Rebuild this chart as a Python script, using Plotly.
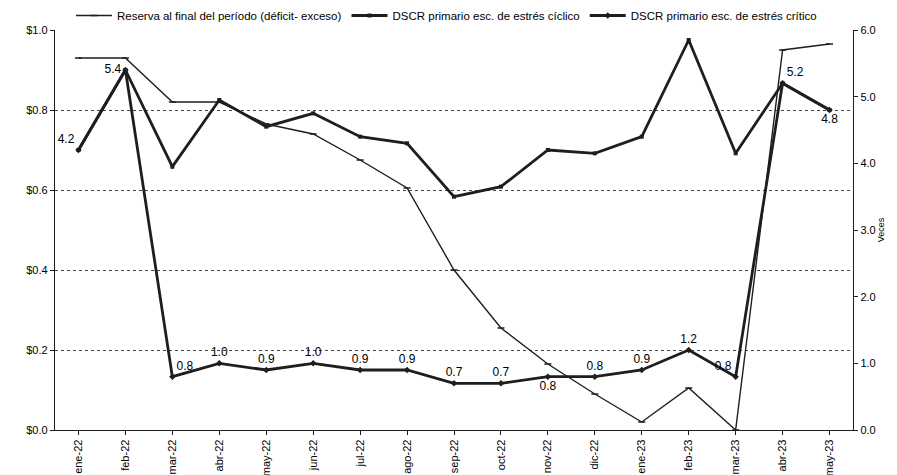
import plotly.graph_objects as go

# Monthly periods
months = ["ene-22", "feb-22", "mar-22", "abr-22", "may-22", "jun-22", "jul-22", "ago-22",
          "sep-22", "oct-22", "nov-22", "dic-22", "ene-23", "feb-23", "mar-23", "abr-23", "may-23"]

# Reserve at end of period (left axis, $)
reserva = [0.93, 0.93, 0.82, 0.82, 0.765, 0.74, 0.675, 0.605, 0.40, 0.255,
           0.165, 0.09, 0.02, 0.105, 0.0, 0.95, 0.965]

# DSCR, cyclical stress scenario (right axis, times)
dscr_ciclico = [4.2, 5.4, 3.95, 4.95, 4.55, 4.75, 4.4, 4.3, 3.5, 3.65,
                4.2, 4.15, 4.4, 5.85, 4.15, 5.2, 4.8]

# DSCR, critical stress scenario (right axis, times)
dscr_critico = [4.2, 5.4, 0.8, 1.0, 0.9, 1.0, 0.9, 0.9, 0.7, 0.7,
                0.8, 0.8, 0.9, 1.2, 0.8, 5.2, 4.8]

label_pos = ["top left", "middle left", "top right", "top center", "top center", "top center",
             "top center", "top center", "top center", "top center", "bottom center",
             "top center", "top center", "top center", "top left", "top right", "bottom center"]

FONT = "Liberation Sans Narrow, Arial Narrow, Liberation Sans, sans-serif"
INK = "#1e1e1e"

fig = go.Figure()

fig.add_trace(go.Scatter(
    x=months, y=reserva, name="Reserva al final del período (déficit- exceso)",
    mode="lines+markers", line=dict(color=INK, width=1.4),
    marker=dict(symbol="line-ew", size=5, line=dict(color=INK, width=1.5)),
    yaxis="y",
))

fig.add_trace(go.Scatter(
    x=months, y=dscr_ciclico, name="DSCR primario esc. de estrés cíclico",
    mode="lines+markers", line=dict(color=INK, width=2.8),
    marker=dict(symbol="square", size=4, color=INK),
    yaxis="y2",
))

fig.add_trace(go.Scatter(
    x=months, y=dscr_critico, name="DSCR primario esc. de estrés crítico",
    mode="lines+markers+text", line=dict(color=INK, width=2.8),
    marker=dict(symbol="diamond", size=5, color=INK),
    text=[f"{v:.1f}" for v in dscr_critico], textposition=label_pos,
    textfont=dict(family=FONT, size=12, color="#000000"),
    yaxis="y2",
))

fig.update_layout(
    width=897, height=475,
    margin=dict(l=55, r=44, t=30, b=45, autoexpand=False),
    paper_bgcolor="white", plot_bgcolor="white",
    font=dict(family=FONT, size=11, color=INK),
    showlegend=True,
    legend=dict(orientation="h", x=0.02, xanchor="left", y=1.0, yanchor="bottom",
                font=dict(family=FONT, size=11.5, color="#000000"),
                bgcolor="rgba(0,0,0,0)", itemwidth=36, tracegroupgap=0),
    xaxis=dict(
        type="category", range=[-0.5, 16.5], tickangle=-90,
        showgrid=False, showline=True, linecolor=INK, linewidth=1.4,
        ticks="outside", ticklen=4, tickcolor=INK,
        tickfont=dict(family=FONT, size=11, color="#000000"),
    ),
    yaxis=dict(
        range=[0, 1.0], dtick=0.2, tickformat="$.1f",
        showgrid=True, gridcolor="#444444", griddash="dot", gridwidth=1.2,
        showline=True, linecolor=INK, linewidth=1.4,
        ticks="outside", ticklen=4, tickcolor=INK,
        tickfont=dict(family=FONT, size=11, color="#000000"), zeroline=False,
    ),
    yaxis2=dict(
        range=[0, 6.0], dtick=1.0, tickformat=".1f", overlaying="y", side="right",
        showgrid=False, showline=True, linecolor=INK, linewidth=1.4,
        ticks="outside", ticklen=4, tickcolor=INK,
        tickfont=dict(family=FONT, size=11, color="#000000"), zeroline=False,
        title=dict(text="Veces", font=dict(family=FONT, size=9, color="#000000"), standoff=2),
    ),
)

fig.write_html("out.html")
